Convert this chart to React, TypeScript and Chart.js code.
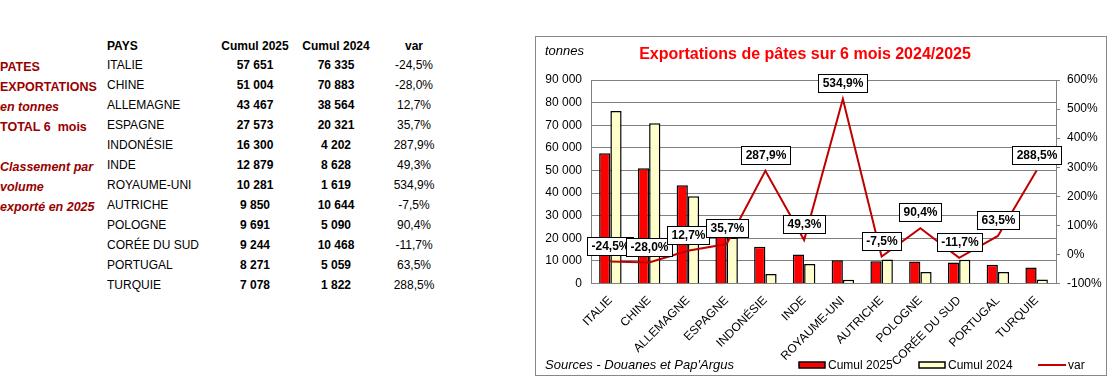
import React, { useEffect, useRef } from 'react';
import { Chart, registerables } from 'chart.js';

Chart.register(...registerables);

const categories = ['ITALIE', 'CHINE', 'ALLEMAGNE', 'ESPAGNE', 'INDONÉSIE', 'INDE', 'ROYAUME-UNI', 'AUTRICHE', 'POLOGNE', 'CORÉE DU SUD', 'PORTUGAL', 'TURQUIE'];
const cumul2025 = [57651, 51004, 43467, 27573, 16300, 12879, 10281, 9850, 9691, 9244, 8271, 7078];
const cumul2024 = [76335, 70883, 38564, 20321, 4202, 8628, 1619, 10644, 5090, 10468, 5059, 1822];
const variation = [-24.5, -28.0, 12.7, 35.7, 287.9, 49.3, 534.9, -7.5, 90.4, -11.7, 63.5, 288.5];

const seriesNames = ['Cumul 2025', 'Cumul 2024', 'var'];
const tableHeaders = ['PAYS', 'Cumul 2025', 'Cumul 2024', 'var'];
const sideLabels = [
  { text: 'PATES', italic: false },
  { text: 'EXPORTATIONS', italic: false },
  { text: 'en tonnes', italic: true },
  { text: 'TOTAL 6  mois', italic: false },
  { text: '', italic: false },
  { text: 'Classement par', italic: true },
  { text: 'volume', italic: true },
  { text: 'exporté en 2025', italic: true },
];
const chartTitle = 'Exportations de pâtes sur 6 mois 2024/2025';
const unitLabel = 'tonnes';
const sourceLabel = "Sources - Douanes et Pap'Argus";

const FONT = "Arial, 'Liberation Sans', Helvetica, sans-serif";
const RED = '#FF0000';
const CREAM = '#FFFFCC';
const LINE = '#C00000';
const GRID = '#808080';

const fmtInt = (n: number) => Math.round(n).toString().replace(/\B(?=(\d{3})+(?!\d))/g, ' ');
const fmtPct = (v: number) => v.toFixed(1).replace('.', ',') + '%';

const annotPlugin = {
  id: 'annot',
  afterDatasetsDraw(chart: any) {
    const ctx = chart.ctx;
    const meta = chart.getDatasetMeta(2);
    ctx.save();
    ctx.font = `bold 12px ${FONT}`;
    ctx.textAlign = 'center';
    ctx.textBaseline = 'middle';
    meta.data.forEach((pt: any, i: number) => {
      const text = fmtPct(variation[i]);
      const w = Math.round(ctx.measureText(text).width + 8);
      const h = 18;
      const x0 = Math.round(pt.x - w / 2);
      const y0 = Math.round(pt.y - 16 - h / 2);
      ctx.fillStyle = '#fff';
      ctx.fillRect(x0, y0, w, h);
      ctx.strokeStyle = '#000';
      ctx.lineWidth = 1;
      ctx.strokeRect(x0 + 0.5, y0 + 0.5, w, h);
      ctx.fillStyle = '#000';
      ctx.fillText(text, x0 + w / 2 + 0.5, y0 + h / 2 + 1);
    });
    ctx.restore();
  },
  afterDraw(chart: any) {
    const ctx = chart.ctx;
    ctx.save();
    // title
    ctx.fillStyle = RED;
    ctx.font = `bold 16px ${FONT}`;
    ctx.textAlign = 'center';
    ctx.textBaseline = 'middle';
    ctx.fillText(chartTitle, 269, 18);
    // unit
    ctx.fillStyle = '#000';
    ctx.font = `italic 13px ${FONT}`;
    ctx.textAlign = 'left';
    ctx.fillText(unitLabel, 9, 14);
    // sources
    ctx.fillText(sourceLabel, 9, 328);
    // legend
    const ds = chart.data.datasets;
    ctx.font = `12px ${FONT}`;
    const ly = 328;
    const items = [263, 383, 502];
    items.forEach((lx, i) => {
      if (i < 2) {
        ctx.fillStyle = ds[i].backgroundColor;
        ctx.fillRect(lx, ly - 3, 26, 6);
        ctx.strokeStyle = '#000';
        ctx.lineWidth = 1.5;
        ctx.strokeRect(lx, ly - 3, 26, 6);
      } else {
        ctx.strokeStyle = ds[i].borderColor;
        ctx.lineWidth = 2;
        ctx.beginPath();
        ctx.moveTo(lx, ly);
        ctx.lineTo(lx + 28, ly);
        ctx.stroke();
      }
      ctx.fillStyle = '#000';
      ctx.fillText(seriesNames[i], lx + (i < 2 ? 29 : 30), ly + 1);
    });
    ctx.restore();
  },
};

export default function App() {
  const ref = useRef<HTMLCanvasElement>(null);

  useEffect(() => {
    const tickFont = { size: 12, family: FONT };
    const chart = new Chart(ref.current as HTMLCanvasElement, {
      type: 'bar',
      data: {
        labels: categories,
        datasets: [
          {
            type: 'bar',
            label: seriesNames[0],
            data: cumul2025,
            backgroundColor: RED,
            borderColor: '#000',
            borderWidth: 1.5,
            categoryPercentage: 0.58,
            barPercentage: 1,
            yAxisID: 'y',
            order: 1,
          },
          {
            type: 'bar',
            label: seriesNames[1],
            data: cumul2024,
            backgroundColor: CREAM,
            borderColor: '#000',
            borderWidth: 1.5,
            categoryPercentage: 0.58,
            barPercentage: 1,
            yAxisID: 'y',
            order: 1,
          },
          {
            type: 'line',
            label: seriesNames[2],
            data: variation,
            borderColor: LINE,
            backgroundColor: LINE,
            borderWidth: 2,
            pointRadius: 0,
            tension: 0,
            yAxisID: 'y2',
            order: 0,
          },
        ],
      } as any,
      options: {
        responsive: false,
        animation: false,
        layout: { padding: { top: 43, left: 0, right: 0, bottom: 0 } },
        plugins: {
          legend: { display: false },
          tooltip: { enabled: false },
          title: { display: false },
        },
        scales: {
          x: {
            grid: { display: false },
            border: { display: true, color: GRID },
            ticks: {
              autoSkip: false,
              minRotation: 45,
              maxRotation: 45,
              font: tickFont,
              color: '#000',
              padding: 2,
            },
            afterFit: (s: any) => {
              s.height = 91.5;
            },
          },
          y: {
            position: 'left',
            min: 0,
            max: 90000,
            ticks: {
              stepSize: 10000,
              callback: (v: any) => fmtInt(Number(v)),
              padding: 9,
              font: tickFont,
              color: '#000',
            },
            grid: { color: GRID, drawTicks: false },
            border: { color: GRID },
            afterFit: (s: any) => {
              s.width = 55;
            },
          },
          y2: {
            position: 'right',
            min: -100,
            max: 600,
            ticks: {
              stepSize: 100,
              callback: (v: any) => v + '%',
              padding: 7,
              font: tickFont,
              color: '#000',
            },
            grid: { drawOnChartArea: false, drawTicks: true, tickLength: 4, color: GRID },
            border: { color: GRID },
            afterFit: (s: any) => {
              s.width = 50;
            },
          },
        },
      } as any,
      plugins: [annotPlugin],
    });
    return () => chart.destroy();
  }, []);

  const rowY = (i: number) => 65 + i * 20;
  const colCenters = [255, 336, 414];

  return (
    <div style={{ position: 'absolute', left: 0, top: 0, width: 1117, height: 384, background: '#fff', fontFamily: FONT, color: '#000' }}>
      {sideLabels.map((l, i) => (
        <div
          key={'s' + i}
          style={{
            position: 'absolute',
            left: 0,
            top: 67 + i * 20 - 10,
            height: 20,
            lineHeight: '20px',
            fontSize: 12.5,
            fontWeight: 'bold',
            fontStyle: l.italic ? 'italic' : 'normal',
            color: '#990000',
            whiteSpace: 'pre',
          }}
        >
          {l.text}
        </div>
      ))}
      <div style={{ position: 'absolute', left: 107, top: 46 - 10, height: 20, lineHeight: '20px', fontSize: 12, fontWeight: 'bold' }}>
        {tableHeaders[0]}
      </div>
      {tableHeaders.slice(1).map((h, j) => (
        <div
          key={'h' + j}
          style={{ position: 'absolute', left: colCenters[j] - 50, width: 100, textAlign: 'center', top: 46 - 10, height: 20, lineHeight: '20px', fontSize: 12, fontWeight: 'bold' }}
        >
          {h}
        </div>
      ))}
      {categories.map((c, i) => (
        <React.Fragment key={'r' + i}>
          <div style={{ position: 'absolute', left: 107, top: rowY(i) - 10, height: 20, lineHeight: '20px', fontSize: 12 }}>{c}</div>
          <div style={{ position: 'absolute', left: colCenters[0] - 50, width: 100, textAlign: 'center', top: rowY(i) - 10, height: 20, lineHeight: '20px', fontSize: 12, fontWeight: 'bold' }}>
            {fmtInt(cumul2025[i])}
          </div>
          <div style={{ position: 'absolute', left: colCenters[1] - 50, width: 100, textAlign: 'center', top: rowY(i) - 10, height: 20, lineHeight: '20px', fontSize: 12, fontWeight: 'bold' }}>
            {fmtInt(cumul2024[i])}
          </div>
          <div style={{ position: 'absolute', left: colCenters[2] - 50, width: 100, textAlign: 'center', top: rowY(i) - 10, height: 20, lineHeight: '20px', fontSize: 12 }}>
            {fmtPct(variation[i])}
          </div>
        </React.Fragment>
      ))}
      <div style={{ position: 'absolute', left: 535, top: 36, width: 570, height: 338, border: '1px solid #888' }}>
        <canvas ref={ref} width={570} height={338} style={{ display: 'block', width: 570, height: 338 }} />
      </div>
    </div>
  );
}
